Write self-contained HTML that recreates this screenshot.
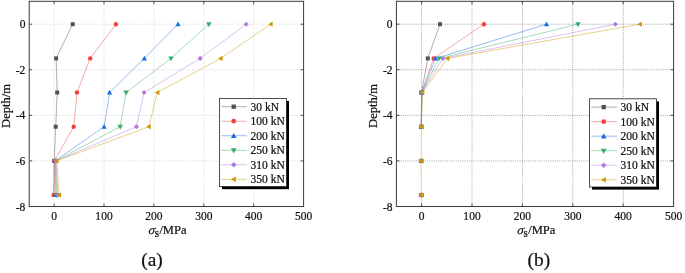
<!DOCTYPE html>
<html><head><meta charset="utf-8"><title>Figure</title>
<style>
html,body{margin:0;padding:0;background:#fff;}
body{width:685px;height:273px;overflow:hidden;}
svg{display:block;}
svg text{font-family:"Liberation Serif","Times New Roman",serif;font-size:11.5px;fill:#111;stroke:#111;stroke-width:0.22px;}
</style></head><body>
<svg width="685" height="273" viewBox="0 0 685 273">
<rect width="685" height="273" fill="#fff"/>
<line x1="54.10" y1="1.3" x2="54.10" y2="206.5" stroke="#d6d6d6" stroke-width="0.8" stroke-dasharray="1 1.2"/>
<line x1="104.00" y1="1.3" x2="104.00" y2="206.5" stroke="#d6d6d6" stroke-width="0.8" stroke-dasharray="1 1.2"/>
<line x1="153.90" y1="1.3" x2="153.90" y2="206.5" stroke="#d6d6d6" stroke-width="0.8" stroke-dasharray="1 1.2"/>
<line x1="203.80" y1="1.3" x2="203.80" y2="206.5" stroke="#d6d6d6" stroke-width="0.8" stroke-dasharray="1 1.2"/>
<line x1="253.70" y1="1.3" x2="253.70" y2="206.5" stroke="#d6d6d6" stroke-width="0.8" stroke-dasharray="1 1.2"/>
<line x1="29.2" y1="24.20" x2="303.6" y2="24.20" stroke="#d0d0d0" stroke-width="0.8" stroke-dasharray="1 1.2"/>
<line x1="29.2" y1="69.78" x2="303.6" y2="69.78" stroke="#d0d0d0" stroke-width="0.8" stroke-dasharray="1 1.2"/>
<line x1="29.2" y1="115.36" x2="303.6" y2="115.36" stroke="#d0d0d0" stroke-width="0.8" stroke-dasharray="1 1.2"/>
<line x1="29.2" y1="160.94" x2="303.6" y2="160.94" stroke="#d0d0d0" stroke-width="0.8" stroke-dasharray="1 1.2"/>
<polyline points="72.70,24.20 56.10,58.40 57.20,92.50 55.70,126.70 54.20,160.90 53.80,195.00" fill="none" stroke="#515151" stroke-width="0.46"/>
<polyline points="115.90,24.20 90.20,58.40 77.00,92.50 73.70,126.70 54.30,160.90 54.10,195.00" fill="none" stroke="#F14040" stroke-width="0.46"/>
<polyline points="178.00,24.20 144.40,58.40 109.60,92.50 104.10,126.70 55.00,160.90 55.90,195.00" fill="none" stroke="#1A6FDF" stroke-width="0.46"/>
<polyline points="208.90,24.20 170.90,58.40 126.10,92.50 120.20,126.70 55.50,160.90 56.90,195.00" fill="none" stroke="#37AD6B" stroke-width="0.46"/>
<polyline points="246.20,24.20 200.20,58.40 144.10,92.50 136.40,126.70 56.00,160.90 57.90,195.00" fill="none" stroke="#B177DE" stroke-width="0.46"/>
<polyline points="270.70,24.20 220.70,58.40 157.40,92.50 148.80,126.70 56.60,160.90 59.20,195.00" fill="none" stroke="#CC9900" stroke-width="0.46"/>
<rect x="70.70" y="22.20" width="4.00" height="4.00" fill="#515151"/>
<rect x="54.10" y="56.40" width="4.00" height="4.00" fill="#515151"/>
<rect x="55.20" y="90.50" width="4.00" height="4.00" fill="#515151"/>
<rect x="53.70" y="124.70" width="4.00" height="4.00" fill="#515151"/>
<rect x="52.20" y="158.90" width="4.00" height="4.00" fill="#515151"/>
<rect x="51.80" y="193.00" width="4.00" height="4.00" fill="#515151"/>
<circle cx="115.90" cy="24.20" r="2.20" fill="#F14040"/>
<circle cx="90.20" cy="58.40" r="2.20" fill="#F14040"/>
<circle cx="77.00" cy="92.50" r="2.20" fill="#F14040"/>
<circle cx="73.70" cy="126.70" r="2.20" fill="#F14040"/>
<circle cx="54.30" cy="160.90" r="2.20" fill="#F14040"/>
<circle cx="54.10" cy="195.00" r="2.20" fill="#F14040"/>
<polygon points="178.00,21.55 175.35,26.32 180.65,26.32" fill="#1A6FDF"/>
<polygon points="144.40,55.75 141.75,60.52 147.05,60.52" fill="#1A6FDF"/>
<polygon points="109.60,89.85 106.95,94.62 112.25,94.62" fill="#1A6FDF"/>
<polygon points="104.10,124.05 101.45,128.82 106.75,128.82" fill="#1A6FDF"/>
<polygon points="55.00,158.25 52.35,163.02 57.65,163.02" fill="#1A6FDF"/>
<polygon points="55.90,192.35 53.25,197.12 58.55,197.12" fill="#1A6FDF"/>
<polygon points="208.90,27.17 206.20,22.31 211.60,22.31" fill="#37AD6B"/>
<polygon points="170.90,61.37 168.20,56.51 173.60,56.51" fill="#37AD6B"/>
<polygon points="126.10,95.47 123.40,90.61 128.80,90.61" fill="#37AD6B"/>
<polygon points="120.20,129.67 117.50,124.81 122.90,124.81" fill="#37AD6B"/>
<polygon points="55.50,163.87 52.80,159.01 58.20,159.01" fill="#37AD6B"/>
<polygon points="56.90,197.97 54.20,193.11 59.60,193.11" fill="#37AD6B"/>
<polygon points="246.20,21.65 243.65,24.20 246.20,26.75 248.75,24.20" fill="#B177DE"/>
<polygon points="200.20,55.85 197.65,58.40 200.20,60.95 202.75,58.40" fill="#B177DE"/>
<polygon points="144.10,89.95 141.55,92.50 144.10,95.05 146.65,92.50" fill="#B177DE"/>
<polygon points="136.40,124.15 133.85,126.70 136.40,129.25 138.95,126.70" fill="#B177DE"/>
<polygon points="56.00,158.35 53.45,160.90 56.00,163.45 58.55,160.90" fill="#B177DE"/>
<polygon points="57.90,192.45 55.35,195.00 57.90,197.55 60.45,195.00" fill="#B177DE"/>
<polygon points="268.10,24.20 272.65,21.60 272.65,26.80" fill="#CC9900"/>
<polygon points="218.10,58.40 222.65,55.80 222.65,61.00" fill="#CC9900"/>
<polygon points="154.80,92.50 159.35,89.90 159.35,95.10" fill="#CC9900"/>
<polygon points="146.20,126.70 150.75,124.10 150.75,129.30" fill="#CC9900"/>
<polygon points="54.00,160.90 58.55,158.30 58.55,163.50" fill="#CC9900"/>
<polygon points="56.60,195.00 61.15,192.40 61.15,197.60" fill="#CC9900"/>
<rect x="29.2" y="1.3" width="274.40" height="205.20" fill="none" stroke="#3a3a3a" stroke-width="1"/>
<line x1="54.10" y1="206.5" x2="54.10" y2="203.5" stroke="#3a3a3a" stroke-width="0.9"/>
<line x1="54.10" y1="1.3" x2="54.10" y2="4.3" stroke="#3a3a3a" stroke-width="0.9"/>
<line x1="104.00" y1="206.5" x2="104.00" y2="203.5" stroke="#3a3a3a" stroke-width="0.9"/>
<line x1="104.00" y1="1.3" x2="104.00" y2="4.3" stroke="#3a3a3a" stroke-width="0.9"/>
<line x1="153.90" y1="206.5" x2="153.90" y2="203.5" stroke="#3a3a3a" stroke-width="0.9"/>
<line x1="153.90" y1="1.3" x2="153.90" y2="4.3" stroke="#3a3a3a" stroke-width="0.9"/>
<line x1="203.80" y1="206.5" x2="203.80" y2="203.5" stroke="#3a3a3a" stroke-width="0.9"/>
<line x1="203.80" y1="1.3" x2="203.80" y2="4.3" stroke="#3a3a3a" stroke-width="0.9"/>
<line x1="253.70" y1="206.5" x2="253.70" y2="203.5" stroke="#3a3a3a" stroke-width="0.9"/>
<line x1="253.70" y1="1.3" x2="253.70" y2="4.3" stroke="#3a3a3a" stroke-width="0.9"/>
<line x1="29.2" y1="24.20" x2="32.2" y2="24.20" stroke="#3a3a3a" stroke-width="0.9"/>
<line x1="303.6" y1="24.20" x2="300.6" y2="24.20" stroke="#3a3a3a" stroke-width="0.9"/>
<line x1="29.2" y1="69.78" x2="32.2" y2="69.78" stroke="#3a3a3a" stroke-width="0.9"/>
<line x1="303.6" y1="69.78" x2="300.6" y2="69.78" stroke="#3a3a3a" stroke-width="0.9"/>
<line x1="29.2" y1="115.36" x2="32.2" y2="115.36" stroke="#3a3a3a" stroke-width="0.9"/>
<line x1="303.6" y1="115.36" x2="300.6" y2="115.36" stroke="#3a3a3a" stroke-width="0.9"/>
<line x1="29.2" y1="160.94" x2="32.2" y2="160.94" stroke="#3a3a3a" stroke-width="0.9"/>
<line x1="303.6" y1="160.94" x2="300.6" y2="160.94" stroke="#3a3a3a" stroke-width="0.9"/>
<text transform="translate(54.10,220.20) scale(0.93,1)" text-anchor="middle" style="font-size:12.4px">0</text>
<text transform="translate(104.00,220.20) scale(0.93,1)" text-anchor="middle" style="font-size:12.4px">100</text>
<text transform="translate(153.90,220.20) scale(0.93,1)" text-anchor="middle" style="font-size:12.4px">200</text>
<text transform="translate(203.80,220.20) scale(0.93,1)" text-anchor="middle" style="font-size:12.4px">300</text>
<text transform="translate(253.70,220.20) scale(0.93,1)" text-anchor="middle" style="font-size:12.4px">400</text>
<text transform="translate(303.60,220.20) scale(0.93,1)" text-anchor="middle" style="font-size:12.4px">500</text>
<text transform="translate(25.40,28.30) scale(0.93,1)" text-anchor="end" style="font-size:12.4px">0</text>
<text transform="translate(25.40,73.88) scale(0.93,1)" text-anchor="end" style="font-size:12.4px">-2</text>
<text transform="translate(25.40,119.46) scale(0.93,1)" text-anchor="end" style="font-size:12.4px">-4</text>
<text transform="translate(25.40,165.04) scale(0.93,1)" text-anchor="end" style="font-size:12.4px">-6</text>
<text transform="translate(25.40,210.62) scale(0.93,1)" text-anchor="end" style="font-size:12.4px">-8</text>
<text transform="translate(9.60,106) rotate(-90)" text-anchor="middle" style="font-size:12.5px">Depth/m</text>
<text transform="translate(147.80,234.2) skewX(-14)" style="font-size:12.5px">σ</text>
<text x="154.80" y="236.7" style="font-size:7.5px;font-weight:bold">S</text>
<text x="159.40" y="234.2" style="font-size:12.5px">/MPa</text>
<text transform="translate(152.00,266.00) scale(1.01,1)" text-anchor="middle" style="font-size:19.2px">(a)</text>
<rect x="222.0" y="101.0" width="67" height="88.2" fill="#000"/>
<rect x="219.4" y="98.4" width="67" height="88.2" fill="#fff" stroke="#222" stroke-width="0.8"/>
<line x1="221.20000000000002" y1="106.70" x2="246.8" y2="106.70" stroke="#515151" stroke-width="0.46"/>
<rect x="231.54" y="104.54" width="4.32" height="4.32" fill="#515151"/>
<text x="250.6" y="110.60">30 kN</text>
<line x1="221.20000000000002" y1="121.23" x2="246.8" y2="121.23" stroke="#F14040" stroke-width="0.46"/>
<circle cx="233.70" cy="121.23" r="2.38" fill="#F14040"/>
<text x="250.6" y="125.13">100 kN</text>
<line x1="221.20000000000002" y1="135.76" x2="246.8" y2="135.76" stroke="#1A6FDF" stroke-width="0.46"/>
<polygon points="233.70,132.90 230.84,138.05 236.56,138.05" fill="#1A6FDF"/>
<text x="250.6" y="139.66">200 kN</text>
<line x1="221.20000000000002" y1="150.29" x2="246.8" y2="150.29" stroke="#37AD6B" stroke-width="0.46"/>
<polygon points="233.70,153.50 230.78,148.25 236.62,148.25" fill="#37AD6B"/>
<text x="250.6" y="154.19">250 kN</text>
<line x1="221.20000000000002" y1="164.82" x2="246.8" y2="164.82" stroke="#B177DE" stroke-width="0.46"/>
<polygon points="233.70,162.07 230.95,164.82 233.70,167.57 236.45,164.82" fill="#B177DE"/>
<text x="250.6" y="168.72">310 kN</text>
<line x1="221.20000000000002" y1="179.35" x2="246.8" y2="179.35" stroke="#CC9900" stroke-width="0.46"/>
<polygon points="230.89,179.35 235.81,176.54 235.81,182.16" fill="#CC9900"/>
<text x="250.6" y="183.25">350 kN</text>
<line x1="421.60" y1="1.3" x2="421.60" y2="92" stroke="#8c8c8c" stroke-width="0.8" stroke-dasharray="1 1.2"/>
<line x1="421.60" y1="196.4" x2="421.60" y2="206.5" stroke="#8c8c8c" stroke-width="0.8" stroke-dasharray="1 1.2"/>
<line x1="472.00" y1="1.3" x2="472.00" y2="206.5" stroke="#8c8c8c" stroke-width="0.8" stroke-dasharray="1 1.2"/>
<line x1="522.40" y1="1.3" x2="522.40" y2="206.5" stroke="#8c8c8c" stroke-width="0.8" stroke-dasharray="1 1.2"/>
<line x1="572.80" y1="1.3" x2="572.80" y2="206.5" stroke="#8c8c8c" stroke-width="0.8" stroke-dasharray="1 1.2"/>
<line x1="623.20" y1="1.3" x2="623.20" y2="206.5" stroke="#8c8c8c" stroke-width="0.8" stroke-dasharray="1 1.2"/>
<line x1="396.4" y1="24.20" x2="673.6" y2="24.20" stroke="#8c8c8c" stroke-width="0.8" stroke-dasharray="1 1.2"/>
<line x1="396.4" y1="69.78" x2="673.6" y2="69.78" stroke="#8c8c8c" stroke-width="0.8" stroke-dasharray="1 1.2"/>
<line x1="396.4" y1="115.36" x2="673.6" y2="115.36" stroke="#8c8c8c" stroke-width="0.8" stroke-dasharray="1 1.2"/>
<line x1="396.4" y1="160.94" x2="673.6" y2="160.94" stroke="#8c8c8c" stroke-width="0.8" stroke-dasharray="1 1.2"/>
<polyline points="440.00,24.20 427.80,58.40 421.50,92.50 421.30,126.70" fill="none" stroke="#515151" stroke-width="0.46"/>
<polyline points="483.90,24.20 433.60,58.40 421.60,92.50 421.30,126.70" fill="none" stroke="#F14040" stroke-width="0.46"/>
<polyline points="546.50,24.20 435.60,58.40 421.70,92.50 421.30,126.70" fill="none" stroke="#1A6FDF" stroke-width="0.46"/>
<polyline points="578.00,24.20 439.00,58.40 421.80,92.50 421.30,126.70" fill="none" stroke="#37AD6B" stroke-width="0.46"/>
<polyline points="615.40,24.20 442.90,58.40 422.00,92.50 421.30,126.70" fill="none" stroke="#B177DE" stroke-width="0.46"/>
<polyline points="639.90,24.20 447.50,58.40 422.30,92.50 421.35,126.70 421.20,160.90 421.30,195.00" fill="none" stroke="#CC9900" stroke-width="0.46"/>
<rect x="438.00" y="22.20" width="4.00" height="4.00" fill="#515151"/>
<rect x="425.80" y="56.40" width="4.00" height="4.00" fill="#515151"/>
<rect x="419.50" y="90.50" width="4.00" height="4.00" fill="#515151"/>
<rect x="419.30" y="124.70" width="4.00" height="4.00" fill="#515151"/>
<rect x="419.20" y="158.90" width="4.00" height="4.00" fill="#515151"/>
<rect x="419.30" y="193.00" width="4.00" height="4.00" fill="#515151"/>
<circle cx="483.90" cy="24.20" r="2.20" fill="#F14040"/>
<circle cx="433.60" cy="58.40" r="2.20" fill="#F14040"/>
<circle cx="421.60" cy="92.50" r="2.20" fill="#F14040"/>
<circle cx="421.30" cy="126.70" r="2.20" fill="#F14040"/>
<circle cx="421.20" cy="160.90" r="2.20" fill="#F14040"/>
<circle cx="421.30" cy="195.00" r="2.20" fill="#F14040"/>
<polygon points="546.50,21.55 543.85,26.32 549.15,26.32" fill="#1A6FDF"/>
<polygon points="435.60,55.75 432.95,60.52 438.25,60.52" fill="#1A6FDF"/>
<polygon points="421.70,89.85 419.05,94.62 424.35,94.62" fill="#1A6FDF"/>
<polygon points="421.30,124.05 418.65,128.82 423.95,128.82" fill="#1A6FDF"/>
<polygon points="421.20,158.25 418.55,163.02 423.85,163.02" fill="#1A6FDF"/>
<polygon points="421.30,192.35 418.65,197.12 423.95,197.12" fill="#1A6FDF"/>
<polygon points="578.00,27.17 575.30,22.31 580.70,22.31" fill="#37AD6B"/>
<polygon points="439.00,61.37 436.30,56.51 441.70,56.51" fill="#37AD6B"/>
<polygon points="421.80,95.47 419.10,90.61 424.50,90.61" fill="#37AD6B"/>
<polygon points="421.30,129.67 418.60,124.81 424.00,124.81" fill="#37AD6B"/>
<polygon points="421.20,163.87 418.50,159.01 423.90,159.01" fill="#37AD6B"/>
<polygon points="421.30,197.97 418.60,193.11 424.00,193.11" fill="#37AD6B"/>
<polygon points="615.40,21.65 612.85,24.20 615.40,26.75 617.95,24.20" fill="#B177DE"/>
<polygon points="442.90,55.85 440.35,58.40 442.90,60.95 445.45,58.40" fill="#B177DE"/>
<polygon points="422.00,89.95 419.45,92.50 422.00,95.05 424.55,92.50" fill="#B177DE"/>
<polygon points="421.30,124.15 418.75,126.70 421.30,129.25 423.85,126.70" fill="#B177DE"/>
<polygon points="421.20,158.35 418.65,160.90 421.20,163.45 423.75,160.90" fill="#B177DE"/>
<polygon points="421.30,192.45 418.75,195.00 421.30,197.55 423.85,195.00" fill="#B177DE"/>
<polygon points="637.30,24.20 641.85,21.60 641.85,26.80" fill="#CC9900"/>
<polygon points="444.90,58.40 449.45,55.80 449.45,61.00" fill="#CC9900"/>
<polygon points="419.70,92.50 424.25,89.90 424.25,95.10" fill="#CC9900"/>
<polygon points="418.50,126.70 423.05,124.10 423.05,129.30" fill="#CC9900"/>
<polygon points="418.35,160.90 422.90,158.30 422.90,163.50" fill="#CC9900"/>
<polygon points="418.45,195.00 423.00,192.40 423.00,197.60" fill="#CC9900"/>
<rect x="396.4" y="1.3" width="277.20" height="205.20" fill="none" stroke="#3a3a3a" stroke-width="1"/>
<line x1="421.60" y1="206.5" x2="421.60" y2="203.5" stroke="#3a3a3a" stroke-width="0.9"/>
<line x1="421.60" y1="1.3" x2="421.60" y2="4.3" stroke="#3a3a3a" stroke-width="0.9"/>
<line x1="472.00" y1="206.5" x2="472.00" y2="203.5" stroke="#3a3a3a" stroke-width="0.9"/>
<line x1="472.00" y1="1.3" x2="472.00" y2="4.3" stroke="#3a3a3a" stroke-width="0.9"/>
<line x1="522.40" y1="206.5" x2="522.40" y2="203.5" stroke="#3a3a3a" stroke-width="0.9"/>
<line x1="522.40" y1="1.3" x2="522.40" y2="4.3" stroke="#3a3a3a" stroke-width="0.9"/>
<line x1="572.80" y1="206.5" x2="572.80" y2="203.5" stroke="#3a3a3a" stroke-width="0.9"/>
<line x1="572.80" y1="1.3" x2="572.80" y2="4.3" stroke="#3a3a3a" stroke-width="0.9"/>
<line x1="623.20" y1="206.5" x2="623.20" y2="203.5" stroke="#3a3a3a" stroke-width="0.9"/>
<line x1="623.20" y1="1.3" x2="623.20" y2="4.3" stroke="#3a3a3a" stroke-width="0.9"/>
<line x1="396.4" y1="24.20" x2="399.4" y2="24.20" stroke="#3a3a3a" stroke-width="0.9"/>
<line x1="673.6" y1="24.20" x2="670.6" y2="24.20" stroke="#3a3a3a" stroke-width="0.9"/>
<line x1="396.4" y1="69.78" x2="399.4" y2="69.78" stroke="#3a3a3a" stroke-width="0.9"/>
<line x1="673.6" y1="69.78" x2="670.6" y2="69.78" stroke="#3a3a3a" stroke-width="0.9"/>
<line x1="396.4" y1="115.36" x2="399.4" y2="115.36" stroke="#3a3a3a" stroke-width="0.9"/>
<line x1="673.6" y1="115.36" x2="670.6" y2="115.36" stroke="#3a3a3a" stroke-width="0.9"/>
<line x1="396.4" y1="160.94" x2="399.4" y2="160.94" stroke="#3a3a3a" stroke-width="0.9"/>
<line x1="673.6" y1="160.94" x2="670.6" y2="160.94" stroke="#3a3a3a" stroke-width="0.9"/>
<text transform="translate(421.60,220.20) scale(0.93,1)" text-anchor="middle" style="font-size:12.4px">0</text>
<text transform="translate(472.00,220.20) scale(0.93,1)" text-anchor="middle" style="font-size:12.4px">100</text>
<text transform="translate(522.40,220.20) scale(0.93,1)" text-anchor="middle" style="font-size:12.4px">200</text>
<text transform="translate(572.80,220.20) scale(0.93,1)" text-anchor="middle" style="font-size:12.4px">300</text>
<text transform="translate(623.20,220.20) scale(0.93,1)" text-anchor="middle" style="font-size:12.4px">400</text>
<text transform="translate(673.60,220.20) scale(0.93,1)" text-anchor="middle" style="font-size:12.4px">500</text>
<text transform="translate(392.60,28.30) scale(0.93,1)" text-anchor="end" style="font-size:12.4px">0</text>
<text transform="translate(392.60,73.88) scale(0.93,1)" text-anchor="end" style="font-size:12.4px">-2</text>
<text transform="translate(392.60,119.46) scale(0.93,1)" text-anchor="end" style="font-size:12.4px">-4</text>
<text transform="translate(392.60,165.04) scale(0.93,1)" text-anchor="end" style="font-size:12.4px">-6</text>
<text transform="translate(392.60,210.62) scale(0.93,1)" text-anchor="end" style="font-size:12.4px">-8</text>
<text transform="translate(376.80,106) rotate(-90)" text-anchor="middle" style="font-size:12.5px">Depth/m</text>
<text transform="translate(516.60,234.2) skewX(-14)" style="font-size:12.5px">σ</text>
<text x="523.60" y="236.7" style="font-size:7.5px;font-weight:bold">S</text>
<text x="528.20" y="234.2" style="font-size:12.5px">/MPa</text>
<text transform="translate(538.90,266.00) scale(1.01,1)" text-anchor="middle" style="font-size:19.2px">(b)</text>
<rect x="592.0" y="101.39999999999999" width="67" height="88.2" fill="#000"/>
<rect x="589.4" y="98.8" width="67" height="88.2" fill="#fff" stroke="#222" stroke-width="0.8"/>
<line x1="591.1999999999999" y1="107.10" x2="616.8" y2="107.10" stroke="#515151" stroke-width="0.46"/>
<rect x="601.54" y="104.94" width="4.32" height="4.32" fill="#515151"/>
<text x="620.6" y="111.00">30 kN</text>
<line x1="591.1999999999999" y1="121.63" x2="616.8" y2="121.63" stroke="#F14040" stroke-width="0.46"/>
<circle cx="603.70" cy="121.63" r="2.38" fill="#F14040"/>
<text x="620.6" y="125.53">100 kN</text>
<line x1="591.1999999999999" y1="136.16" x2="616.8" y2="136.16" stroke="#1A6FDF" stroke-width="0.46"/>
<polygon points="603.70,133.30 600.84,138.45 606.56,138.45" fill="#1A6FDF"/>
<text x="620.6" y="140.06">200 kN</text>
<line x1="591.1999999999999" y1="150.69" x2="616.8" y2="150.69" stroke="#37AD6B" stroke-width="0.46"/>
<polygon points="603.70,153.90 600.78,148.65 606.62,148.65" fill="#37AD6B"/>
<text x="620.6" y="154.59">250 kN</text>
<line x1="591.1999999999999" y1="165.22" x2="616.8" y2="165.22" stroke="#B177DE" stroke-width="0.46"/>
<polygon points="603.70,162.47 600.95,165.22 603.70,167.97 606.45,165.22" fill="#B177DE"/>
<text x="620.6" y="169.12">310 kN</text>
<line x1="591.1999999999999" y1="179.75" x2="616.8" y2="179.75" stroke="#CC9900" stroke-width="0.46"/>
<polygon points="600.89,179.75 605.81,176.94 605.81,182.56" fill="#CC9900"/>
<text x="620.6" y="183.65">350 kN</text>
</svg>
</body></html>
